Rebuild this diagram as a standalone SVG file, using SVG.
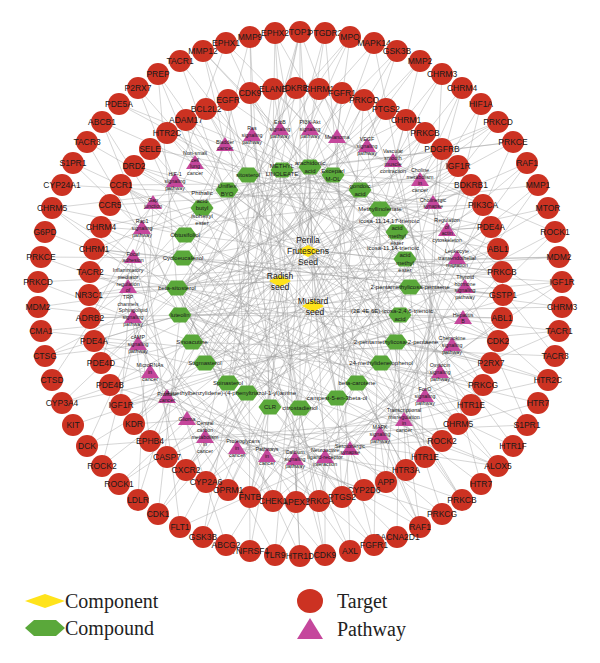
<svg xmlns="http://www.w3.org/2000/svg" xmlns:xlink="http://www.w3.org/1999/xlink" width="600" height="663" viewBox="0 0 600 663">
<style>
text{font-family:"Liberation Sans",Arial,sans-serif;text-anchor:middle;dominant-baseline:central;fill:#1a1a1a}
.t circle{fill:#CC3222}
.t text{font-size:8.5px}
.p use{fill:#C5479C}
.p text{font-size:5.3px}
.c use{fill:#5AA83A}
.c text{font-size:6px}
.k use{fill:#FFE31B}
.k text{font-size:8.5px}
.e path{fill:none;stroke:#9a9a9a;stroke-width:0.55;stroke-opacity:0.75}
.leg{font-family:"Liberation Serif","Times New Roman",serif;font-size:20px;text-anchor:start;fill:#222}
</style>
<defs>
<polygon id="tri" points="0,-8 9,6 -9,6"/>
<polygon id="hex" points="-11.5,0 -6,-7.5 6,-7.5 11.5,0 6,7.5 -6,7.5"/>
<polygon id="dia" points="-11,0 0,-6 11,0 0,6"/>
</defs>
<rect width="600" height="663" fill="#fff"/>
<g id="connectors" class="e">
<path d="M308 250L280 170M308 250L310 167M308 250L333 175M308 250L360 190M308 250L380 208M308 250L397 233M308 250L405 260M308 250L400 315M308 250L177 288M308 250L202 208M308 250L227 190M308 250L248 175M308 250L380 363M308 251L357 383M308 251L337 398M308 251L397 342M308 251L410 287"/>
<path d="M280 281L280 170M280 281L300 408M280 281L270 407M280 281L228 383M280 281L205 363M280 281L192 342M280 281L180 315M280 281L177 288M280 281L183 258M280 281L185 235M280 281L248 175M280 281L357 383M280 281L202 208M280 281L227 190M280 281L247 393M280 281L333 175"/>
<path d="M313 306L410 287M313 306L397 342M313 306L380 363M313 306L357 383M313 306L337 398M313 306L300 408M313 306L247 393M313 306L270 407M313 306L177 288M313 306L360 190M313 306L310 167M313 306L380 208M313 306L397 233M313 306L405 260M313 306L400 315M313 306L205 363M313 306L192 342"/>
<path d="M280 170L296 88M280 170L90 318M280 170L513 142M280 170L458 424M280 170L300 556M280 170L471 185M280 170L397 51M280 170L150 441M280 170L420 527"/>
<path d="M310 167L342 93M310 167L406 120M310 167L62 403M310 167L250 497M310 167L548 380M310 167L94 249M310 167L203 51M310 167L425 457M310 167L513 446"/>
<path d="M333 175L364 100M333 175L498 249M333 175L52 208M333 175L134 424M333 175L442 514"/>
<path d="M360 190L425 133M360 190L458 166M360 190L110 205M360 190L180 527M360 190L483 385M360 190L300 32M360 190L228 490M360 190L45 356"/>
<path d="M380 208L471 185M380 208L483 205M380 208L119 104M380 208L186 470M380 208L374 545"/>
<path d="M397 233L491 227M397 233L498 249M397 233L134 166M397 233L102 466M397 233L319 501"/>
<path d="M405 260L502 272M405 260L559 257M405 260L167 133M405 260L226 545M405 260L386 482"/>
<path d="M410 287L503 295M410 287L562 307M410 287L206 109M410 287L119 484M410 287L425 457"/>
<path d="M400 315L502 318M400 315L498 341M400 315L73 163M400 315L250 93M400 315L397 537M400 315L462 88M400 315L121 405M400 315L73 425"/>
<path d="M397 342L491 363M397 342L548 380M397 342L180 61M397 342L296 88M397 342L250 497"/>
<path d="M380 363L483 385M380 363L471 405M380 363L226 43M380 363L121 185M380 363L462 500M380 363L527 163M380 363L206 482M380 363L45 232"/>
<path d="M357 383L442 441M357 383L406 470M357 383L325 33M357 383L90 272M357 383L275 555"/>
<path d="M337 398L364 490M337 398L342 497M337 398L420 61M337 398L94 341M337 398L498 466M337 398L275 33M337 398L364 100M337 398L38 282"/>
<path d="M300 408L296 502M300 408L273 501M300 408L481 104M300 408L101 227M300 408L300 32M300 408L180 61M300 408L471 185M300 408L52 208"/>
<path d="M270 407L228 490M270 407L250 497M270 407L538 185M270 407L150 149M270 407L250 37"/>
<path d="M247 393L206 482M247 393L186 470M247 393L555 232M247 393L228 100M247 393L374 43"/>
<path d="M228 383L167 457M228 383L150 441M228 383L562 282M228 383L273 89M228 383L462 88M228 383L325 33M228 383L491 227M228 383L87 142"/>
<path d="M205 363L134 424M205 363L121 405M205 363L559 331M205 363L342 93M205 363L397 51M205 363L498 249M205 363L442 74M205 363L300 32M205 363L483 205M205 363L498 466M205 363L458 166"/>
<path d="M192 342L110 385M192 342L101 363M192 342L555 356M192 342L386 109M192 342L498 122"/>
<path d="M180 315L94 341M180 315L90 318M180 315L538 403M180 315L425 133M180 315L527 163M180 315L502 318M180 315L45 356M180 315L386 482M180 315L158 514M180 315L458 166M180 315L102 122M180 315L471 405M180 315L420 61M180 315L397 537M180 315L350 551M180 315L296 88M180 315L250 37M180 315L296 502M180 315L562 307M180 315L502 272"/>
<path d="M177 288L89 295M177 288L90 272M177 288L513 446M177 288L442 149M177 288L548 208M177 288L342 497M177 288L38 307M177 288L491 363M177 288L158 74M177 288L350 37M177 288L442 514M177 288L386 109M177 288L300 556M177 288L425 457M177 288L498 122M177 288L273 501"/>
<path d="M183 258L94 249M183 258L101 227M183 258L481 484M183 258L483 205M183 258L41 257M183 258L442 441M183 258L374 43M183 258L374 545M183 258L503 295M183 258L562 282"/>
<path d="M185 235L110 205M185 235L121 185M185 235L420 527M185 235L502 272M185 235L52 208"/>
<path d="M202 208L134 166M202 208L150 149M202 208L350 551M202 208L498 341M202 208L87 142"/>
<path d="M227 190L167 133M227 190L186 120M227 190L325 555M227 190L483 385M227 190L138 88"/>
<path d="M248 175L206 109M248 175L228 100M248 175L250 551M248 175L458 424M248 175L203 51M248 175L462 500M248 175L319 501M248 175L513 142"/>
<path d="M195 163L102 122M195 163L158 74M195 163L186 120M195 163L491 227M195 163L52 380"/>
<path d="M225 145L203 51M225 145L206 109M225 145L87 446M225 145L406 470"/>
<path d="M252 135L250 37M252 135L250 93M252 135L138 500M252 135L503 295M252 135L498 466M252 135L325 555M252 135L342 497"/>
<path d="M280 128L300 32M280 128L275 33M280 128L273 89M280 128L203 537M280 128L471 405"/>
<path d="M310 128L325 33M310 128L350 37M310 128L319 89M310 128L275 555M310 128L134 424M310 128L555 232M310 128L226 43M310 128L483 205"/>
<path d="M337 137L350 37M337 137L342 93M337 137L350 551M337 137L101 363"/>
<path d="M367 145L397 51M367 145L386 109M367 145L420 527M367 145L89 295"/>
<path d="M393 163L442 74M393 163L406 120M393 163L481 484M393 163L101 227M393 163L498 122"/>
<path d="M420 182L462 88M420 182L442 149M420 182L527 425M420 182L121 185"/>
<path d="M433 205L498 122M433 205L471 185M433 205L555 356M433 205L150 149M433 205L62 185M433 205L158 514M433 205L186 470"/>
<path d="M447 230L527 163M447 230L491 227M447 230L562 307M447 230L186 120"/>
<path d="M457 260L548 208M457 260L498 249M457 260L559 257M457 260L228 100M457 260L38 282"/>
<path d="M465 290L562 282M465 290L503 295M465 290L119 104M465 290L273 89M465 290L41 331M465 290L94 249"/>
<path d="M463 320L559 331M463 320L498 341M463 320L203 51M463 320L319 89M463 320L62 403"/>
<path d="M452 347L548 380M452 347L491 363M452 347L275 33M452 347L364 100"/>
<path d="M440 375L527 425M440 375L471 405M440 375L374 43M440 375L406 120M440 375L41 331"/>
<path d="M425 398L498 466M425 398L442 441M425 398L442 74M425 398L442 149"/>
<path d="M404 422L462 500M404 422L406 470M404 422L481 104M404 422L471 185M404 422L87 446M404 422L158 74M404 422L167 133"/>
<path d="M380 437L420 527M380 437L386 482M380 437L513 142M380 437L491 227"/>
<path d="M350 450L374 545M350 450L342 497M350 450L538 185M350 450L502 272M350 450L180 527"/>
<path d="M325 458L325 555M325 458L319 501M325 458L555 232M325 458L502 318M325 458L538 403M325 458L273 501M325 458L300 32M325 458L110 385"/>
<path d="M295 460L300 556M295 460L296 502M295 460L562 282M295 460L491 363"/>
<path d="M267 458L250 551M267 458L250 497M267 458L559 331M267 458L471 405M267 458L442 514M267 458L94 341M267 458L275 33M267 458L425 133"/>
<path d="M237 450L203 537M237 450L206 482M237 450L548 380M237 450L442 441"/>
<path d="M205 438L158 514M205 438L167 457M205 438L527 425M205 438L406 470M205 438L300 32"/>
<path d="M187 420L119 484M187 420L134 424M187 420L498 466M187 420L364 490"/>
<path d="M167 397L87 446M167 397L121 405M167 397L462 500M167 397L319 501M167 397L420 61"/>
<path d="M150 373L62 403M150 373L101 363M150 373L420 527M150 373L273 501"/>
<path d="M138 345L45 356M138 345L94 341M138 345L374 545M138 345L228 490M138 345L513 142"/>
<path d="M133 317L38 307M133 317L90 318M133 317L325 555M133 317L186 470"/>
<path d="M128 288L41 257M128 288L89 295M128 288L275 555M128 288L150 441M128 288L350 37M128 288L559 257M128 288L502 272"/>
<path d="M133 258L52 208M133 258L94 249M133 258L226 545M133 258L121 405"/>
<path d="M142 230L73 163M142 230L101 227M142 230L180 527M142 230L101 363M142 230L538 185"/>
<path d="M153 203L102 122M153 203L121 185M153 203L138 500M153 203L90 318"/>
<path d="M175 182L138 88M175 182L134 166M175 182L102 466M175 182L90 272M175 182L226 43"/>
</g>
<g id="outer-targets">
<g id="o0" class="t" transform="translate(300 32)"><circle r="11"/><text>TOP1</text></g>
<g id="o1" class="t" transform="translate(325 33)"><circle r="11"/><text>PTGDR2</text></g>
<g id="o2" class="t" transform="translate(350 37)"><circle r="11"/><text>MPO</text></g>
<g id="o3" class="t" transform="translate(374 43)"><circle r="11"/><text>MAPK14</text></g>
<g id="o4" class="t" transform="translate(397 51)"><circle r="11"/><text>GSK3B</text></g>
<g id="o5" class="t" transform="translate(420 61)"><circle r="11"/><text>MMP2</text></g>
<g id="o6" class="t" transform="translate(442 74)"><circle r="11"/><text>CHRM3</text></g>
<g id="o7" class="t" transform="translate(462 88)"><circle r="11"/><text>CHRM4</text></g>
<g id="o8" class="t" transform="translate(481 104)"><circle r="11"/><text>HIF1A</text></g>
<g id="o9" class="t" transform="translate(498 122)"><circle r="11"/><text>PRKCD</text></g>
<g id="o10" class="t" transform="translate(513 142)"><circle r="11"/><text>PRKCE</text></g>
<g id="o11" class="t" transform="translate(527 163)"><circle r="11"/><text>RAF1</text></g>
<g id="o12" class="t" transform="translate(538 185)"><circle r="11"/><text>MMP1</text></g>
<g id="o13" class="t" transform="translate(548 208)"><circle r="11"/><text>MTOR</text></g>
<g id="o14" class="t" transform="translate(555 232)"><circle r="11"/><text>ROCK1</text></g>
<g id="o15" class="t" transform="translate(559 257)"><circle r="11"/><text>MDM2</text></g>
<g id="o16" class="t" transform="translate(562 282)"><circle r="11"/><text>IGF1R</text></g>
<g id="o17" class="t" transform="translate(562 307)"><circle r="11"/><text>CHRM3</text></g>
<g id="o18" class="t" transform="translate(559 331)"><circle r="11"/><text>TACR1</text></g>
<g id="o19" class="t" transform="translate(555 356)"><circle r="11"/><text>TACR3</text></g>
<g id="o20" class="t" transform="translate(548 380)"><circle r="11"/><text>HTR2C</text></g>
<g id="o21" class="t" transform="translate(538 403)"><circle r="11"/><text>HTR7</text></g>
<g id="o22" class="t" transform="translate(527 425)"><circle r="11"/><text>S1PR1</text></g>
<g id="o23" class="t" transform="translate(513 446)"><circle r="11"/><text>HTR1F</text></g>
<g id="o24" class="t" transform="translate(498 466)"><circle r="11"/><text>ALOX5</text></g>
<g id="o25" class="t" transform="translate(481 484)"><circle r="11"/><text>HTR7</text></g>
<g id="o26" class="t" transform="translate(462 500)"><circle r="11"/><text>PRKCB</text></g>
<g id="o27" class="t" transform="translate(442 514)"><circle r="11"/><text>PRKCG</text></g>
<g id="o28" class="t" transform="translate(420 527)"><circle r="11"/><text>RAF1</text></g>
<g id="o29" class="t" transform="translate(397 537)"><circle r="11"/><text>CACNA2D1</text></g>
<g id="o30" class="t" transform="translate(374 545)"><circle r="11"/><text>FGFR1</text></g>
<g id="o31" class="t" transform="translate(350 551)"><circle r="11"/><text>AXL</text></g>
<g id="o32" class="t" transform="translate(325 555)"><circle r="11"/><text>CDK9</text></g>
<g id="o33" class="t" transform="translate(300 556)"><circle r="11"/><text>HTR1D</text></g>
<g id="o34" class="t" transform="translate(275 555)"><circle r="11"/><text>TLR9</text></g>
<g id="o35" class="t" transform="translate(250 551)"><circle r="11"/><text>TNFRSF1</text></g>
<g id="o36" class="t" transform="translate(226 545)"><circle r="11"/><text>ABCG2</text></g>
<g id="o37" class="t" transform="translate(203 537)"><circle r="11"/><text>GSK3B</text></g>
<g id="o38" class="t" transform="translate(180 527)"><circle r="11"/><text>FLT1</text></g>
<g id="o39" class="t" transform="translate(158 514)"><circle r="11"/><text>CDK1</text></g>
<g id="o40" class="t" transform="translate(138 500)"><circle r="11"/><text>LDLR</text></g>
<g id="o41" class="t" transform="translate(119 484)"><circle r="11"/><text>ROCK1</text></g>
<g id="o42" class="t" transform="translate(102 466)"><circle r="11"/><text>ROCK2</text></g>
<g id="o43" class="t" transform="translate(87 446)"><circle r="11"/><text>DCK</text></g>
<g id="o44" class="t" transform="translate(73 425)"><circle r="11"/><text>KIT</text></g>
<g id="o45" class="t" transform="translate(62 403)"><circle r="11"/><text>CYP3A4</text></g>
<g id="o46" class="t" transform="translate(52 380)"><circle r="11"/><text>CTSD</text></g>
<g id="o47" class="t" transform="translate(45 356)"><circle r="11"/><text>CTSG</text></g>
<g id="o48" class="t" transform="translate(41 331)"><circle r="11"/><text>CMA1</text></g>
<g id="o49" class="t" transform="translate(38 307)"><circle r="11"/><text>MDM2</text></g>
<g id="o50" class="t" transform="translate(38 282)"><circle r="11"/><text>PRKCD</text></g>
<g id="o51" class="t" transform="translate(41 257)"><circle r="11"/><text>PRKCE</text></g>
<g id="o52" class="t" transform="translate(45 232)"><circle r="11"/><text>G6PD</text></g>
<g id="o53" class="t" transform="translate(52 208)"><circle r="11"/><text>CHRM5</text></g>
<g id="o54" class="t" transform="translate(62 185)"><circle r="11"/><text>CYP24A1</text></g>
<g id="o55" class="t" transform="translate(73 163)"><circle r="11"/><text>S1PR1</text></g>
<g id="o56" class="t" transform="translate(87 142)"><circle r="11"/><text>TACR3</text></g>
<g id="o57" class="t" transform="translate(102 122)"><circle r="11"/><text>ABCB1</text></g>
<g id="o58" class="t" transform="translate(119 104)"><circle r="11"/><text>PDE5A</text></g>
<g id="o59" class="t" transform="translate(138 88)"><circle r="11"/><text>P2RX7</text></g>
<g id="o60" class="t" transform="translate(158 74)"><circle r="11"/><text>PREP</text></g>
<g id="o61" class="t" transform="translate(180 61)"><circle r="11"/><text>TACR1</text></g>
<g id="o62" class="t" transform="translate(203 51)"><circle r="11"/><text>MMP12</text></g>
<g id="o63" class="t" transform="translate(226 43)"><circle r="11"/><text>EPHX1</text></g>
<g id="o64" class="t" transform="translate(250 37)"><circle r="11"/><text>MMP9</text></g>
<g id="o65" class="t" transform="translate(275 33)"><circle r="11"/><text>EPHX2</text></g>
</g>
<g id="inner-targets">
<g id="i0" class="t" transform="translate(296 88)"><circle r="11"/><text>BDKRB2</text></g>
<g id="i1" class="t" transform="translate(319 89)"><circle r="11"/><text>CHRM1</text></g>
<g id="i2" class="t" transform="translate(342 93)"><circle r="11"/><text>FGFR1</text></g>
<g id="i3" class="t" transform="translate(364 100)"><circle r="11"/><text>PRKCQ</text></g>
<g id="i4" class="t" transform="translate(386 109)"><circle r="11"/><text>PTGS2</text></g>
<g id="i5" class="t" transform="translate(406 120)"><circle r="11"/><text>CHRM1</text></g>
<g id="i6" class="t" transform="translate(425 133)"><circle r="11"/><text>PRKCB</text></g>
<g id="i7" class="t" transform="translate(442 149)"><circle r="11"/><text>PDGFRB</text></g>
<g id="i8" class="t" transform="translate(458 166)"><circle r="11"/><text>IGF1R</text></g>
<g id="i9" class="t" transform="translate(471 185)"><circle r="11"/><text>BDKRB1</text></g>
<g id="i10" class="t" transform="translate(483 205)"><circle r="11"/><text>PIK3CA</text></g>
<g id="i11" class="t" transform="translate(491 227)"><circle r="11"/><text>PDE4A</text></g>
<g id="i12" class="t" transform="translate(498 249)"><circle r="11"/><text>ABL1</text></g>
<g id="i13" class="t" transform="translate(502 272)"><circle r="11"/><text>PRKCB</text></g>
<g id="i14" class="t" transform="translate(503 295)"><circle r="11"/><text>GSTP1</text></g>
<g id="i15" class="t" transform="translate(502 318)"><circle r="11"/><text>ABL1</text></g>
<g id="i16" class="t" transform="translate(498 341)"><circle r="11"/><text>CDK2</text></g>
<g id="i17" class="t" transform="translate(491 363)"><circle r="11"/><text>P2RX7</text></g>
<g id="i18" class="t" transform="translate(483 385)"><circle r="11"/><text>PRKCG</text></g>
<g id="i19" class="t" transform="translate(471 405)"><circle r="11"/><text>HTR1E</text></g>
<g id="i20" class="t" transform="translate(458 424)"><circle r="11"/><text>CHRM5</text></g>
<g id="i21" class="t" transform="translate(442 441)"><circle r="11"/><text>ROCK2</text></g>
<g id="i22" class="t" transform="translate(425 457)"><circle r="11"/><text>HTR1E</text></g>
<g id="i23" class="t" transform="translate(406 470)"><circle r="11"/><text>HTR3A</text></g>
<g id="i24" class="t" transform="translate(386 482)"><circle r="11"/><text>APP</text></g>
<g id="i25" class="t" transform="translate(364 490)"><circle r="11"/><text>CYP2D6</text></g>
<g id="i26" class="t" transform="translate(342 497)"><circle r="11"/><text>PTGS2</text></g>
<g id="i27" class="t" transform="translate(319 501)"><circle r="11"/><text>PRKCA</text></g>
<g id="i28" class="t" transform="translate(296 502)"><circle r="11"/><text>APEX1</text></g>
<g id="i29" class="t" transform="translate(273 501)"><circle r="11"/><text>CHEK1</text></g>
<g id="i30" class="t" transform="translate(250 497)"><circle r="11"/><text>FNTB</text></g>
<g id="i31" class="t" transform="translate(228 490)"><circle r="11"/><text>OPRM1</text></g>
<g id="i32" class="t" transform="translate(206 482)"><circle r="11"/><text>CYP2A6</text></g>
<g id="i33" class="t" transform="translate(186 470)"><circle r="11"/><text>CXCR2</text></g>
<g id="i34" class="t" transform="translate(167 457)"><circle r="11"/><text>CASP7</text></g>
<g id="i35" class="t" transform="translate(150 441)"><circle r="11"/><text>EPHB4</text></g>
<g id="i36" class="t" transform="translate(134 424)"><circle r="11"/><text>KDR</text></g>
<g id="i37" class="t" transform="translate(121 405)"><circle r="11"/><text>IGF1R</text></g>
<g id="i38" class="t" transform="translate(110 385)"><circle r="11"/><text>PDE4B</text></g>
<g id="i39" class="t" transform="translate(101 363)"><circle r="11"/><text>PDE4D</text></g>
<g id="i40" class="t" transform="translate(94 341)"><circle r="11"/><text>PDE4A</text></g>
<g id="i41" class="t" transform="translate(90 318)"><circle r="11"/><text>ADRB2</text></g>
<g id="i42" class="t" transform="translate(89 295)"><circle r="11"/><text>NR3C1</text></g>
<g id="i43" class="t" transform="translate(90 272)"><circle r="11"/><text>TACR2</text></g>
<g id="i44" class="t" transform="translate(94 249)"><circle r="11"/><text>CHRM1</text></g>
<g id="i45" class="t" transform="translate(101 227)"><circle r="11"/><text>CHRM4</text></g>
<g id="i46" class="t" transform="translate(110 205)"><circle r="11"/><text>CCR5</text></g>
<g id="i47" class="t" transform="translate(121 185)"><circle r="11"/><text>CCR1</text></g>
<g id="i48" class="t" transform="translate(134 166)"><circle r="11"/><text>DRD2</text></g>
<g id="i49" class="t" transform="translate(150 149)"><circle r="11"/><text>SELE</text></g>
<g id="i50" class="t" transform="translate(167 133)"><circle r="11"/><text>HTR2C</text></g>
<g id="i51" class="t" transform="translate(186 120)"><circle r="11"/><text>ADAM17</text></g>
<g id="i52" class="t" transform="translate(206 109)"><circle r="11"/><text>BCL2L2</text></g>
<g id="i53" class="t" transform="translate(228 100)"><circle r="11"/><text>EGFR</text></g>
<g id="i54" class="t" transform="translate(250 93)"><circle r="11"/><text>CDK9</text></g>
<g id="i55" class="t" transform="translate(273 89)"><circle r="11"/><text>ELANE</text></g>
</g>
<g id="pathways">
<g id="p1" class="p" transform="translate(195 163)"><use href="#tri"/><text><tspan x="0" dy="-10.2">Non-small</tspan><tspan x="0" dy="6.8">cell</tspan><tspan x="0" dy="6.8">lung</tspan><tspan x="0" dy="6.8">cancer</tspan></text></g>
<g id="p2" class="p" transform="translate(225 145)"><use href="#tri"/><text><tspan x="0" dy="-3.4">Bladder</tspan><tspan x="0" dy="6.8">cancer</tspan></text></g>
<g id="p3" class="p" transform="translate(252 135)"><use href="#tri"/><text><tspan x="0" dy="-6.8">Ras</tspan><tspan x="0" dy="6.8">signaling</tspan><tspan x="0" dy="6.8">pathway</tspan></text></g>
<g id="p4" class="p" transform="translate(280 129)"><use href="#tri"/><text><tspan x="0" dy="-6.8">ErbB</tspan><tspan x="0" dy="6.8">signaling</tspan><tspan x="0" dy="6.8">pathway</tspan></text></g>
<g id="p5" class="p" transform="translate(310 129)"><use href="#tri"/><text><tspan x="0" dy="-6.8">PI3K-Akt</tspan><tspan x="0" dy="6.8">signaling</tspan><tspan x="0" dy="6.8">pathway</tspan></text></g>
<g id="p6" class="p" transform="translate(337 137)"><use href="#tri"/><text>Melanoma</text></g>
<g id="p7" class="p" transform="translate(367 146)"><use href="#tri"/><text><tspan x="0" dy="-6.8">VEGF</tspan><tspan x="0" dy="6.8">signaling</tspan><tspan x="0" dy="6.8">pathway</tspan></text></g>
<g id="p8" class="p" transform="translate(393 161)"><use href="#tri"/><text><tspan x="0" dy="-10.2">Vascular</tspan><tspan x="0" dy="6.8">smooth</tspan><tspan x="0" dy="6.8">muscle</tspan><tspan x="0" dy="6.8">contraction</tspan></text></g>
<g id="p9" class="p" transform="translate(420 180)"><use href="#tri"/><text><tspan x="0" dy="-10.2">Choline</tspan><tspan x="0" dy="6.8">metabolism</tspan><tspan x="0" dy="6.8">in</tspan><tspan x="0" dy="6.8">cancer</tspan></text></g>
<g id="p10" class="p" transform="translate(433 203)"><use href="#tri"/><text><tspan x="0" dy="-3.4">Cholinergic</tspan><tspan x="0" dy="6.8">synapse</tspan></text></g>
<g id="p11" class="p" transform="translate(447 230)"><use href="#tri"/><text><tspan x="0" dy="-10.2">Regulation</tspan><tspan x="0" dy="6.8">of</tspan><tspan x="0" dy="6.8">actin</tspan><tspan x="0" dy="6.8">cytoskeleton</tspan></text></g>
<g id="p12" class="p" transform="translate(457 258)"><use href="#tri"/><text><tspan x="0" dy="-6.8">Leukocyte</tspan><tspan x="0" dy="6.8">transendothelial</tspan><tspan x="0" dy="6.8">migration</tspan></text></g>
<g id="p13" class="p" transform="translate(465 287)"><use href="#tri"/><text><tspan x="0" dy="-10.2">Thyroid</tspan><tspan x="0" dy="6.8">hormone</tspan><tspan x="0" dy="6.8">signaling</tspan><tspan x="0" dy="6.8">pathway</tspan></text></g>
<g id="p14" class="p" transform="translate(463 318)"><use href="#tri"/><text><tspan x="0" dy="-3.4">Hepatitis</tspan><tspan x="0" dy="6.8">B</tspan></text></g>
<g id="p15" class="p" transform="translate(452 345)"><use href="#tri"/><text><tspan x="0" dy="-6.8">Chemokine</tspan><tspan x="0" dy="6.8">signaling</tspan><tspan x="0" dy="6.8">pathway</tspan></text></g>
<g id="p16" class="p" transform="translate(440 372)"><use href="#tri"/><text><tspan x="0" dy="-6.8">Oxytocin</tspan><tspan x="0" dy="6.8">signaling</tspan><tspan x="0" dy="6.8">pathway</tspan></text></g>
<g id="p17" class="p" transform="translate(425 396)"><use href="#tri"/><text><tspan x="0" dy="-6.8">FoxO</tspan><tspan x="0" dy="6.8">signaling</tspan><tspan x="0" dy="6.8">pathway</tspan></text></g>
<g id="p18" class="p" transform="translate(404 420)"><use href="#tri"/><text><tspan x="0" dy="-10.2">Transcriptional</tspan><tspan x="0" dy="6.8">misregulation</tspan><tspan x="0" dy="6.8">in</tspan><tspan x="0" dy="6.8">cancer</tspan></text></g>
<g id="p19" class="p" transform="translate(380 434)"><use href="#tri"/><text><tspan x="0" dy="-6.8">MAPK</tspan><tspan x="0" dy="6.8">signaling</tspan><tspan x="0" dy="6.8">pathway</tspan></text></g>
<g id="p20" class="p" transform="translate(350 449)"><use href="#tri"/><text><tspan x="0" dy="-3.4">Serotonergic</tspan><tspan x="0" dy="6.8">synapse</tspan></text></g>
<g id="p21" class="p" transform="translate(325 457)"><use href="#tri"/><text><tspan x="0" dy="-6.8">Neuroactive</tspan><tspan x="0" dy="6.8">ligand-receptor</tspan><tspan x="0" dy="6.8">interaction</tspan></text></g>
<g id="p22" class="p" transform="translate(295 459)"><use href="#tri"/><text><tspan x="0" dy="-6.8">Calcium</tspan><tspan x="0" dy="6.8">signaling</tspan><tspan x="0" dy="6.8">pathway</tspan></text></g>
<g id="p23" class="p" transform="translate(267 456)"><use href="#tri"/><text><tspan x="0" dy="-6.8">Pathways</tspan><tspan x="0" dy="6.8">in</tspan><tspan x="0" dy="6.8">cancer</tspan></text></g>
<g id="p24" class="p" transform="translate(237 448)"><use href="#tri"/><text><tspan x="6" dy="-6.8">Proteoglycans</tspan><tspan x="0" dy="6.8">in</tspan><tspan x="0" dy="6.8">cancer</tspan></text></g>
<g id="p25" class="p" transform="translate(205 437)"><use href="#tri"/><text><tspan x="0" dy="-13.6">Central</tspan><tspan x="0" dy="6.8">carbon</tspan><tspan x="0" dy="6.8">metabolism</tspan><tspan x="0" dy="6.8">in</tspan><tspan x="0" dy="6.8">cancer</tspan></text></g>
<g id="p26" class="p" transform="translate(187 419)"><use href="#tri"/><text>Glioma</text></g>
<g id="p27" class="p" transform="translate(167 397)"><use href="#tri"/><text><tspan x="0" dy="-3.4">Prostate</tspan><tspan x="0" dy="6.8">cancer</tspan></text></g>
<g id="p28" class="p" transform="translate(150 372)"><use href="#tri"/><text><tspan x="0" dy="-6.8">MicroRNAs</tspan><tspan x="0" dy="6.8">in</tspan><tspan x="0" dy="6.8">cancer</tspan></text></g>
<g id="p29" class="p" transform="translate(138 344)"><use href="#tri"/><text><tspan x="0" dy="-6.8">cAMP</tspan><tspan x="0" dy="6.8">signaling</tspan><tspan x="0" dy="6.8">pathway</tspan></text></g>
<g id="p30" class="p" transform="translate(133 317)"><use href="#tri"/><text><tspan x="0" dy="-6.8">Sphingolipid</tspan><tspan x="0" dy="6.8">signaling</tspan><tspan x="0" dy="6.8">pathway</tspan></text></g>
<g id="p31" class="p" transform="translate(128 287)"><use href="#tri"/><text><tspan x="0" dy="-17">Inflammatory</tspan><tspan x="0" dy="6.8">mediator</tspan><tspan x="0" dy="6.8">regulation</tspan><tspan x="0" dy="6.8">of</tspan><tspan x="0" dy="6.8">TRP</tspan><tspan x="0" dy="6.8">channels</tspan></text></g>
<g id="p32" class="p" transform="translate(133 257)"><use href="#tri"/><text><tspan x="0" dy="-3.4">Focal</tspan><tspan x="0" dy="6.8">adhesion</tspan></text></g>
<g id="p33" class="p" transform="translate(142 228)"><use href="#tri"/><text><tspan x="0" dy="-6.8">Rap1</tspan><tspan x="0" dy="6.8">signaling</tspan><tspan x="0" dy="6.8">pathway</tspan></text></g>
<g id="p34" class="p" transform="translate(153 203)"><use href="#tri"/><text><tspan x="0" dy="-3.4">Gap</tspan><tspan x="0" dy="6.8">junction</tspan></text></g>
<g id="p35" class="p" transform="translate(175 181)"><use href="#tri"/><text><tspan x="0" dy="-6.8">HIF-1</tspan><tspan x="0" dy="6.8">signaling</tspan><tspan x="0" dy="6.8">pathway</tspan></text></g>
</g>
<g id="compounds">
<g id="c1" class="c" transform="translate(282 170)"><use href="#hex"/><text><tspan x="0" dy="-3.75">METHYL</tspan><tspan x="0" dy="7.5">LINOLEATE</tspan></text></g>
<g id="c2" class="c" transform="translate(310 167)"><use href="#hex"/><text><tspan x="0" dy="-3.75">arachidonic</tspan><tspan x="0" dy="7.5">acid</tspan></text></g>
<g id="c3" class="c" transform="translate(333 175)"><use href="#hex"/><text><tspan x="0" dy="-3.75">Exceparl</tspan><tspan x="0" dy="7.5">M-OL</tspan></text></g>
<g id="c4" class="c" transform="translate(360 190)"><use href="#hex"/><text><tspan x="0" dy="-3.75">gondoic</tspan><tspan x="0" dy="7.5">acid</tspan></text></g>
<g id="c5" class="c" transform="translate(380 209)"><use href="#hex"/><text>Methyllinolenate</text></g>
<g id="c6" class="c" transform="translate(397 232)"><use href="#hex"/><text><tspan x="-8" dy="-11.25">icosa-11,14,17-trienoic</tspan><tspan x="0" dy="7.5">acid</tspan><tspan x="0" dy="7.5">methyl</tspan><tspan x="0" dy="7.5">ester</tspan></text></g>
<g id="c7" class="c" transform="translate(405 259)"><use href="#hex"/><text><tspan x="-12" dy="-11.25">icosa-11,14-trienoic</tspan><tspan x="0" dy="7.5">acid</tspan><tspan x="0" dy="7.5">methyl</tspan><tspan x="0" dy="7.5">ester</tspan></text></g>
<g id="c8" class="c" transform="translate(410 287)"><use href="#hex"/><text>2-pentamethylicosa-pentaene</text></g>
<g id="c9" class="c" transform="translate(400 315)"><use href="#hex"/><text><tspan x="-8" dy="-3.75">(2E,4E,6E)-icosa-2,4,6-trienoic</tspan><tspan x="0" dy="7.5">acid</tspan></text></g>
<g id="c10" class="c" transform="translate(396 342)"><use href="#hex"/><text>2-pentamethylicosa-2-pentaene</text></g>
<g id="c11" class="c" transform="translate(381 363)"><use href="#hex"/><text>24-methylidenelophenol</text></g>
<g id="c12" class="c" transform="translate(357 383)"><use href="#hex"/><text>beta-carotene</text></g>
<g id="c13" class="c" transform="translate(337 398)"><use href="#hex"/><text>campest-5-en-3beta-ol</text></g>
<g id="c14" class="c" transform="translate(300 408)"><use href="#hex"/><text>citrostadienol</text></g>
<g id="c15" class="c" transform="translate(270 407)"><use href="#hex"/><text>CLR</text></g>
<g id="c16" class="c" transform="translate(247 393)"><use href="#hex"/><text x="-17">(4-methylbenzylidene)-(4-phenyltriazol-1-yl)amine</text></g>
<g id="c17" class="c" transform="translate(228 383)"><use href="#hex"/><text>Spinasterol</text></g>
<g id="c18" class="c" transform="translate(205 363)"><use href="#hex"/><text>Stigmasterol</text></g>
<g id="c19" class="c" transform="translate(192 342)"><use href="#hex"/><text>Sinoacutine</text></g>
<g id="c20" class="c" transform="translate(180 315)"><use href="#hex"/><text>luteolin</text></g>
<g id="c21" class="c" transform="translate(177 288)"><use href="#hex"/><text>beta-sitosterol</text></g>
<g id="c22" class="c" transform="translate(183 258)"><use href="#hex"/><text>Cycloeucalenol</text></g>
<g id="c23" class="c" transform="translate(185 235)"><use href="#hex"/><text>Obtusifoliol</text></g>
<g id="c24" class="c" transform="translate(202 208)"><use href="#hex"/><text><tspan x="0" dy="-15">Phthalic</tspan><tspan x="0" dy="7.5">acid</tspan><tspan x="0" dy="7.5">butyl</tspan><tspan x="0" dy="7.5">isohexyl</tspan><tspan x="0" dy="7.5">ester</tspan></text></g>
<g id="c25" class="c" transform="translate(227 190)"><use href="#hex"/><text><tspan x="0" dy="-3.75">Uniflex</tspan><tspan x="0" dy="7.5">BYO</tspan></text></g>
<g id="c26" class="c" transform="translate(248 175)"><use href="#hex"/><text>sitosterol</text></g>
</g>
<g id="components">
<g id="k1" class="k" transform="translate(308 251)"><use href="#dia"/><text><tspan x="0" dy="-11">Perilla</tspan><tspan x="0" dy="11">Frutescens</tspan><tspan x="0" dy="11">Seed</tspan></text></g>
<g id="k2" class="k" transform="translate(280 281)"><use href="#dia"/><text><tspan x="0" dy="-5.5">Radish</tspan><tspan x="0" dy="11">seed</tspan></text></g>
<g id="k3" class="k" transform="translate(313 306)"><use href="#dia"/><text><tspan x="0" dy="-5.5">Mustard</tspan><tspan x="2" dy="11">seed</tspan></text></g>
</g>
<g id="legend">
<polygon points="25,601 45,594 65,601 45,608" fill="#FFE31B"/>
<text class="leg" x="65" y="601">Component</text>
<polygon points="25,628 34,620 56,620 65,628 56,636 34,636" fill="#5AA83A"/>
<text class="leg" x="65" y="628">Compound</text>
<ellipse cx="310" cy="601" rx="13" ry="12" fill="#CC3222"/>
<text class="leg" x="337" y="601">Target</text>
<polygon points="310,618 323,639 297,639" fill="#C5479C"/>
<text class="leg" x="337" y="629">Pathway</text>
</g>
</svg>
